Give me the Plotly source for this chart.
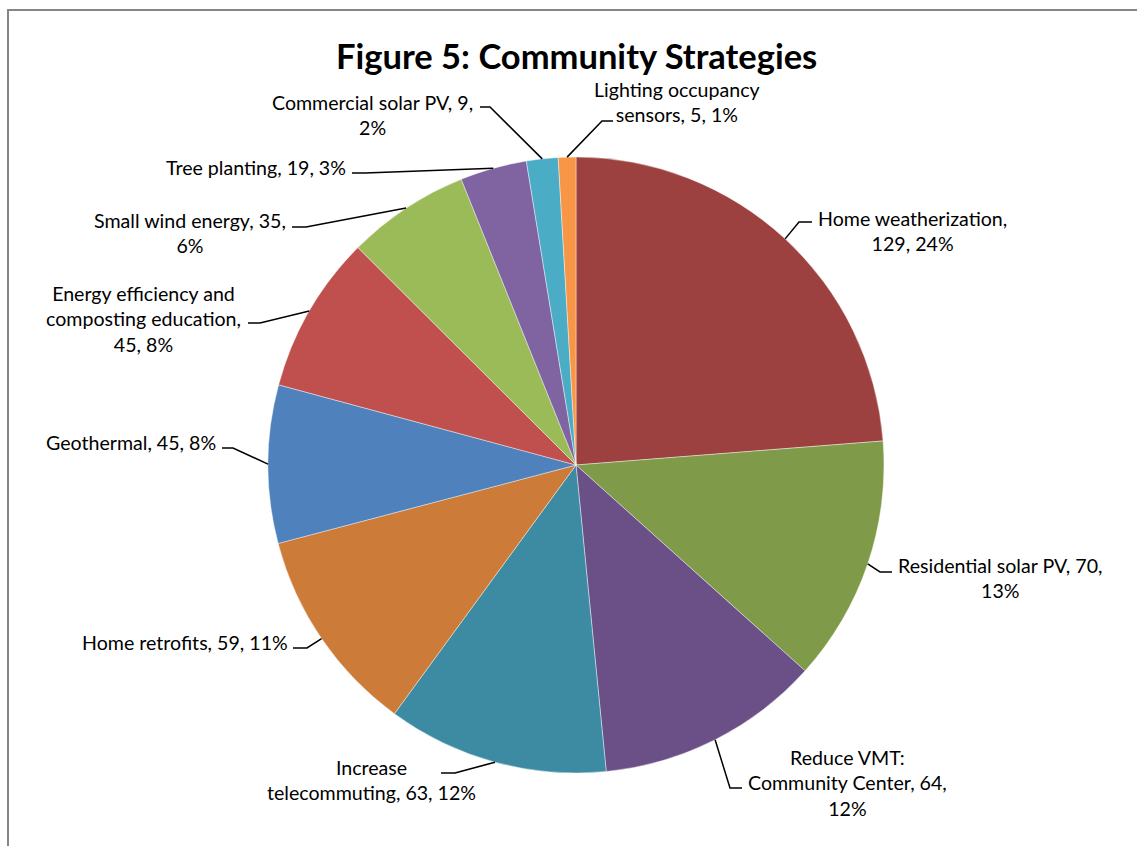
import math
import plotly.graph_objects as go

# Chart data
strategies = [
    "Home weatherization",
    "Residential solar PV",
    "Reduce VMT: Community Center",
    "Increase telecommuting",
    "Home retrofits",
    "Geothermal",
    "Energy efficiency and composting education",
    "Small wind energy",
    "Tree planting",
    "Commercial solar PV",
    "Lighting occupancy sensors",
]
counts = [129, 70, 64, 63, 59, 45, 45, 35, 19, 9, 5]

# Label text, wrapped the way each label is laid out
label_lines = [
    ["Home weatherization,", "{v}, {p}"],
    ["Residential solar PV, {v},", "{p}"],
    ["Reduce VMT:", "Community Center, {v},", "{p}"],
    ["Increase", "telecommuting, {v}, {p}"],
    ["Home retrofits, {v}, {p}"],
    ["Geothermal, {v}, {p}"],
    ["Energy efficiency and", "composting education,", "{v}, {p}"],
    ["Small wind energy, {v},", "{p}"],
    ["Tree planting, {v}, {p}"],
    ["Commercial solar PV, {v},", "{p}"],
    ["Lighting occupancy", "sensors, {v}, {p}"],
]

slice_colors = [
    "#9C413F", "#7F9A48", "#6A5087", "#3C8BA3", "#CC7B38",
    "#4F81BD", "#C0504D", "#9BBB59", "#8064A2", "#4BACC6", "#F79646",
]

# ---- layout (pixels) ----
W, H = 1137, 846
CX, CY, R = 576, 465, 308

# label block centre (x, y), leader elbow (x, y) and stub end x
label_layout = [
    (912, 231, 799, 222, 812),
    (1000, 578, 880, 572, 892),
    (847, 783, 730, 788, 742),
    (371, 780, 455, 773, 441),
    (185, 642, 307, 648, 293),
    (131, 442, 233, 448, 222),
    (143, 319, 260, 323, 248),
    (190, 233, 306, 227, 292),
    (256, 167, 365, 173, 352),
    (372, 115, 490, 107, 480),
    (677, 102, 602, 121, 613),
]

FONT = "Lato, Calibri, Carlito, sans-serif"


def px(x):
    return x / W


def py(y):
    return 1 - y / H


total = sum(counts)

fig = go.Figure(
    go.Pie(
        labels=strategies,
        values=counts,
        sort=False,
        direction="clockwise",
        rotation=0,
        marker=dict(colors=slice_colors, line=dict(color="rgba(255,255,255,0.6)", width=0.7)),
        textinfo="none",
        hoverinfo="label+value+percent",
        showlegend=False,
        domain=dict(x=[px(CX - R), px(CX + R)], y=[py(CY + R), py(CY - R)]),
    )
)

shapes = [
    dict(type="rect", xref="paper", yref="paper",
         x0=px(8), y0=py(10), x1=px(W + 40), y1=py(H + 40),
         line=dict(color="#868686", width=2), fillcolor="rgba(0,0,0,0)", layer="above")
]
annotations = []

cum = 0
for name, v, lines, (tx, ty, ex, ey, sx) in zip(strategies, counts, label_lines, label_layout):
    mid = (cum + v / 2) / total * 2 * math.pi
    cum += v
    # leader anchor on the slice edge at its mid angle
    ax = CX + R * math.sin(mid)
    ay = CY - R * math.cos(mid)
    pct = f"{round(v / total * 100)}%"
    text = "<br>".join(l.format(v=v, p=pct) for l in lines)
    annotations.append(dict(
        x=px(tx), y=py(ty), xref="paper", yref="paper",
        text=text, showarrow=False, align="center",
        xanchor="center", yanchor="middle",
        font=dict(family=FONT, size=19.6, color="#000000"),
    ))
    shapes.append(dict(
        type="path", xref="paper", yref="paper",
        path=f"M {px(ax)},{py(ay)} L {px(ex)},{py(ey)} L {px(sx)},{py(ey)}",
        line=dict(color="#000000", width=1.5),
    ))

annotations.append(dict(
    x=px(576), y=py(55), xref="paper", yref="paper",
    text="<b>Figure 5: Community Strategies</b>", showarrow=False,
    xanchor="center", yanchor="middle",
    font=dict(family=FONT, size=34.5, color="#000000"),
))

fig.update_layout(
    width=W, height=H,
    margin=dict(l=0, r=0, t=0, b=0),
    paper_bgcolor="#FFFFFF",
    plot_bgcolor="#FFFFFF",
    shapes=shapes,
    annotations=annotations,
)

fig.write_html("out.html")
